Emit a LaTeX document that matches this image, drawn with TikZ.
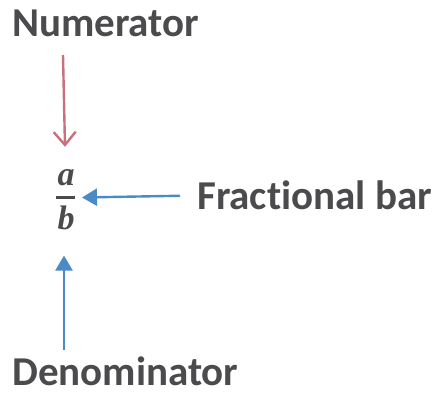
\documentclass[tikz,border=0pt]{standalone}
\usepackage{fontspec}
\setmainfont[Ligatures=NoCommon]{Carlito}
\newfontfamily\fracfont{Liberation Serif}
\usepackage{tikz}
\usetikzlibrary{positioning, arrows.meta, calc}
\definecolor{fbText}{HTML}{4B4B4D}
\definecolor{fbRed}{HTML}{C9707F}
\definecolor{fbBlue}{HTML}{4A8BC6}
\tikzset{
  label text/.style={
    font=\fontsize{41}{45}\selectfont\bfseries,
    text=fbText, inner sep=0pt
  },
  fracletter/.style={
    font=\fontsize{34}{38}\selectfont\fracfont\bfseries\itshape,
    text=fbText, inner sep=0pt
  },
  fracrule/.style={fbText, line width=3pt},
  openarrow/.style={
    -{Straight Barb[length=13pt, width=22pt]},
    fbRed, line width=2.4pt
  },
  fillarrow/.style={
    -{Triangle[length=15pt, width=17pt]},
    fbBlue, line width=2.4pt
  }
}
\begin{document}
\begin{tikzpicture}[x=1pt, y=-1pt]
        \useasboundingbox (0,0) rectangle (437,393);
        \node[label text, anchor=base west] (num) at (12, 37) {Numerator};
        \node[label text, anchor=base west] (bar) at (197, 210) {Fractional bar};
        \node[label text, anchor=base west] (den) at (12, 385) {Denominator};
        % the fraction a/b
        \node[fracletter, anchor=base] (anum) at (66, 186) {a};
        \node[fracletter, anchor=base] (bden) at (66, 230) {b};
        \coordinate (rulel) at (56, 197.5);
        \coordinate (ruler) at (75, 197.5);
        \draw[fracrule] (rulel) -- (ruler);
        \coordinate (numtail) at (63, 55);
        \coordinate (dentail) at (64, 350);
        \draw[openarrow] (numtail) -- ($(anum.north) + (-1, -23)$);
        \draw[fillarrow] (bar.west) ++(-17, 0) coordinate (bartail) -- ($(ruler) + (7, 0)$ |- bartail);
        \draw[fillarrow] (dentail) -- ($(bden.south) + (-2, 25)$);
      \end{tikzpicture}
\end{document}
